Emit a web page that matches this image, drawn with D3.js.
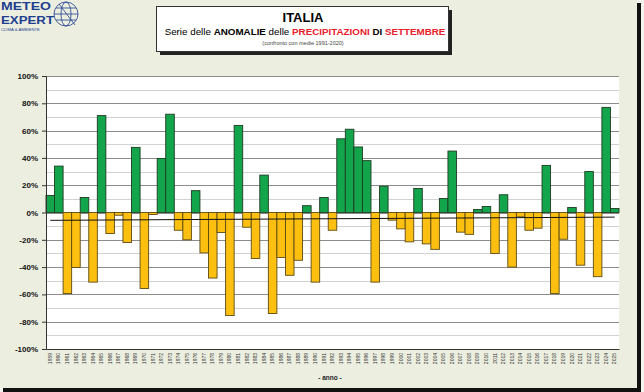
<!DOCTYPE html>
<html>
<head>
<meta charset="utf-8">
<script src="https://cdn.jsdelivr.net/npm/d3@7"></script>
<style>
  body { margin: 0; background: #ffffff; }
  text { font-family: "Liberation Sans", Arial, sans-serif; }
</style>
</head>
<body>
<div id="chart"></div>
<script>
// anomalie precipitazioni di settembre (%), confronto con medie 1991-2020
var years = d3.range(1959, 2026);
var anomalies = [
  12.5, 34, -59.4, -40.3, 11, -51, 71, -15.4, -2, -22,
  47.7, -55.7, -1.5, 39.6, 72, -13, -20, 16, -29.6, -48,
  -14.7, -75.5, 63.8, -10.8, -33.7, 27.4, -74, -33, -46, -35,
  5, -51, 11, -13, 54, 61, 48, 38, -51, 19.3,
  -5.6, -12, -21.5, 17.6, -23, -27, 10.3, 45, -14.4, -16,
  2.2, 4.4, -30, 13, -40, -3.2, -13, -11.5, 34.5, -59.4,
  -19.6, 3.7, -38.6, 30, -47, 77, 2.9
];
var yTicks = [100, 80, 60, 40, 20, 0, -20, -40, -60, -80, -100];

var W = 644, H = 392;
var svg = d3.select('#chart').append('svg').attr('width', W).attr('height', H);

// sfondo + ombra
svg.append('rect').attr('x', 0).attr('y', 0).attr('width', W).attr('height', H).attr('fill', '#f4f5ee');
svg.append('rect').attr('x', 0).attr('y', 0).attr('width', 637).attr('height', 388).attr('fill', '#eceee0');
svg.append('rect').attr('x', 637).attr('y', 3).attr('width', 4).attr('height', 389).attr('fill', '#111');
svg.append('rect').attr('x', 3).attr('y', 388).attr('width', 638).attr('height', 4).attr('fill', '#111');

// logo
var logo = svg.append('g').attr('fill', '#1e3f8f');
logo.append('text').attr('x', 1).attr('y', 10).attr('font-size', 11).attr('font-weight', 'bold')
  .attr('textLength', 50).attr('lengthAdjust', 'spacingAndGlyphs').text('METEO');
logo.append('text').attr('x', 1).attr('y', 23.5).attr('font-size', 11).attr('font-weight', 'bold')
  .attr('textLength', 53).attr('lengthAdjust', 'spacingAndGlyphs').text('EXPERT');
logo.append('text').attr('x', 1).attr('y', 31).attr('font-size', 4.2).text('CLIMA & AMBIENTE');
var globe = svg.append('g').attr('fill', 'none').attr('stroke', '#1e3f8f').attr('stroke-width', 0.8);
globe.append('circle').attr('cx', 66).attr('cy', 14).attr('r', 12);
globe.append('ellipse').attr('cx', 66).attr('cy', 14).attr('rx', 5).attr('ry', 12);
globe.append('line').attr('x1', 54).attr('y1', 14).attr('x2', 78).attr('y2', 14);
globe.append('line').attr('x1', 56).attr('y1', 8).attr('x2', 76).attr('y2', 8);
globe.append('line').attr('x1', 56).attr('y1', 20).attr('x2', 76).attr('y2', 20);
globe.append('line').attr('x1', 59).attr('y1', 4).attr('x2', 75).attr('y2', 25);

// riquadro titolo
svg.append('rect').attr('x', 160).attr('y', 10).attr('width', 292).attr('height', 45).attr('fill', '#222');
svg.append('rect').attr('x', 156.5).attr('y', 6.5).attr('width', 292).attr('height', 45)
  .attr('fill', '#ffffff').attr('stroke', '#333').attr('stroke-width', 1);
svg.append('text').attr('x', 303).attr('y', 22).attr('text-anchor', 'middle')
  .attr('font-size', 13).attr('font-weight', 'bold').text('ITALIA');
var sub = svg.append('text').attr('x', 305).attr('y', 35).attr('text-anchor', 'middle').attr('font-size', 9.8);
sub.append('tspan').text('Serie delle ');
sub.append('tspan').attr('font-weight', 'bold').text('ANOMALIE');
sub.append('tspan').text(' delle ');
sub.append('tspan').attr('font-weight', 'bold').attr('fill', '#e8202a').text('PRECIPITAZIONI');
sub.append('tspan').attr('font-weight', 'bold').text(' DI ');
sub.append('tspan').attr('font-weight', 'bold').attr('fill', '#e8202a').text('SETTEMBRE');
svg.append('text').attr('x', 303).attr('y', 45).attr('text-anchor', 'middle')
  .attr('font-size', 5.5).attr('fill', '#444').text('(confronto con medie 1991-2020)');

// area del grafico
var plot = { left: 46, right: 619, top: 76, bottom: 349 };
var x = d3.scaleBand().domain(years).range([plot.left, plot.right]).padding(0);
var y = d3.scaleLinear().domain([-100, 100]).range([plot.bottom, plot.top]);

svg.append('rect').attr('x', plot.left).attr('y', plot.top)
  .attr('width', plot.right - plot.left).attr('height', plot.bottom - plot.top).attr('fill', '#ffffff');

// griglia
var gridVals = d3.range(-90, 101, 10);
svg.append('g').selectAll('line').data(gridVals).enter().append('line')
  .attr('x1', plot.left).attr('x2', plot.right)
  .attr('y1', function (d) { return Math.round(y(d)) + 0.5; })
  .attr('y2', function (d) { return Math.round(y(d)) + 0.5; })
  .attr('stroke', function (d) { return d % 20 === 0 ? '#8c8c8c' : '#d2d2d2'; })
  .attr('stroke-width', 1);

// barre
svg.append('g').selectAll('rect').data(anomalies).enter().append('rect')
  .attr('x', function (d, i) { return x(years[i]); })
  .attr('width', x.bandwidth())
  .attr('y', function (d) { return y(Math.max(0, d)); })
  .attr('height', function (d) { return Math.abs(y(d) - y(0)); })
  .attr('fill', function (d) { return d >= 0 ? '#13a54b' : '#fdc010'; })
  .attr('stroke', function (d) { return d >= 0 ? '#1d3b22' : '#5c4a14'; })
  .attr('stroke-width', 0.9);

// linea di tendenza (regressione lineare)
var n = years.length;
var mx = d3.mean(years), my = d3.mean(anomalies);
var sxy = 0, sxx = 0;
for (var i = 0; i < n; i++) {
  sxy += (years[i] - mx) * (anomalies[i] - my);
  sxx += (years[i] - mx) * (years[i] - mx);
}
var slope = sxy / sxx, icpt = my - slope * mx;
var y0 = years[0], y1 = years[n - 1];
svg.append('line')
  .attr('x1', x(y0) + x.bandwidth() / 2).attr('x2', x(y1) + x.bandwidth() / 2)
  .attr('y1', y(icpt + slope * y0)).attr('y2', y(icpt + slope * y1))
  .attr('stroke', '#111').attr('stroke-width', 1);

// assi
var yAxis = d3.axisLeft(y).tickValues(yTicks).tickSize(4).tickFormat(function (d) { return d + '%'; });
var gy = svg.append('g').attr('transform', 'translate(' + plot.left + ',0)').call(yAxis);
gy.select('.domain').attr('stroke', '#333');
gy.selectAll('line').attr('stroke', '#333');
gy.selectAll('text').attr('font-size', 8).attr('font-weight', 'bold').attr('fill', '#111')
  .attr('font-family', '"Liberation Sans", Arial, sans-serif').attr('x', -8);

var xAxis = d3.axisBottom(x).tickSize(0).tickFormat(function (d) { return d; });
var gx = svg.append('g').attr('transform', 'translate(0,' + plot.bottom + ')').call(xAxis);
gx.select('.domain').attr('stroke', '#333');
gx.selectAll('text')
  .attr('font-size', 5).attr('fill', '#333')
  .attr('font-family', '"Liberation Sans", Arial, sans-serif')
  .attr('transform', 'rotate(-90)')
  .attr('x', -4).attr('y', 0).attr('dy', '0.32em')
  .attr('text-anchor', 'end');

svg.append('text').attr('x', 330).attr('y', 380).attr('text-anchor', 'middle')
  .attr('font-size', 6.5).attr('font-weight', 'bold').attr('fill', '#222').text('- anno -');
</script>
</body>
</html>
